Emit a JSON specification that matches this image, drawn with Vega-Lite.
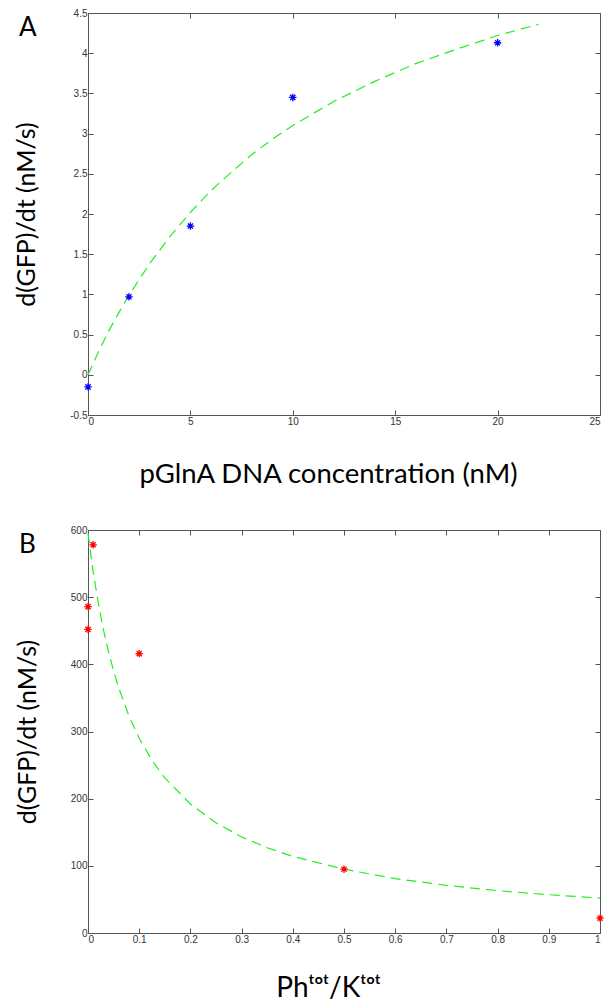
{
  "$schema": "https://vega.github.io/schema/vega-lite/v6.json",
  "padding": {"left": 14, "top": 8, "right": 3, "bottom": 5},
  "background": "white",
  "config": {
    "view": {"stroke": null},
    "axis": {
      "labelFont": "Liberation Sans", "labelFontSize": 10, "labelColor": "#333333",
      "domainColor": "#555555", "tickColor": "#555555", "domainWidth": 1, "tickWidth": 1,
      "tickSize": -5, "labelPadding": 6, "grid": false,
      "titleFont": "Lato", "titleFontSize": 25, "titleFontWeight": "normal", "titleColor": "black",
      "labelExpr": "'' + datum.value"
    }
  },
  "datasets": {
    "curveA": [
      {"x": 0, "y": 0}, {"x": 0.5, "y": 0.28}, {"x": 1, "y": 0.54}, {"x": 1.5, "y": 0.77},
      {"x": 2, "y": 0.99}, {"x": 3, "y": 1.38}, {"x": 4, "y": 1.72}, {"x": 5, "y": 2.02},
      {"x": 6, "y": 2.29}, {"x": 7, "y": 2.52}, {"x": 8, "y": 2.74}, {"x": 9, "y": 2.93},
      {"x": 10, "y": 3.10}, {"x": 12, "y": 3.40}, {"x": 14, "y": 3.65}, {"x": 16, "y": 3.87},
      {"x": 18, "y": 4.05}, {"x": 20, "y": 4.22}, {"x": 22, "y": 4.36}
    ],
    "pointsA": [
      {"x": 0, "y": -0.15}, {"x": 2, "y": 0.97}, {"x": 5, "y": 1.85}, {"x": 10, "y": 3.45}, {"x": 20, "y": 4.13}
    ],
    "curveB": [
      {"x": 0, "y": 595}, {"x": 0.01, "y": 538}, {"x": 0.02, "y": 492}, {"x": 0.03, "y": 452},
      {"x": 0.04, "y": 419}, {"x": 0.05, "y": 390}, {"x": 0.06, "y": 365}, {"x": 0.08, "y": 323},
      {"x": 0.1, "y": 290}, {"x": 0.125, "y": 257}, {"x": 0.15, "y": 231}, {"x": 0.2, "y": 192},
      {"x": 0.25, "y": 164}, {"x": 0.3, "y": 143}, {"x": 0.35, "y": 127}, {"x": 0.4, "y": 114},
      {"x": 0.5, "y": 95}, {"x": 0.6, "y": 81}, {"x": 0.7, "y": 71}, {"x": 0.8, "y": 63},
      {"x": 0.9, "y": 57}, {"x": 1.0, "y": 52}
    ],
    "pointsB": [
      {"x": 0, "y": 486}, {"x": 0, "y": 452}, {"x": 0.01, "y": 578}, {"x": 0.1, "y": 416},
      {"x": 0.5, "y": 95}, {"x": 1.0, "y": 22}
    ]
  },
  "bounds": "flush",
  "spacing": 115,
  "vconcat": [
    {
      "width": 512, "height": 402,
      "title": {"text": "A", "anchor": "start", "frame": "group", "dx": -69, "dy": 37,
        "fontSize": 26, "font": "Lato", "fontWeight": "normal", "color": "black"},
      "layer": [
        {
          "data": {"name": "curveA"},
          "mark": {"type": "line", "color": "#22ee22", "strokeDash": [10, 6], "strokeWidth": 1.2},
          "encoding": {
            "x": {"field": "x", "type": "quantitative", "scale": {"domain": [0, 25], "nice": false, "zero": false},
              "axis": {"orient": "bottom", "values": [0, 5, 10, 15, 20, 25], "title": "pGlnA DNA concentration (nM)", "titlePadding": 34, "titleFontSize": 27.5, "titleX": 240}},
            "y": {"field": "y", "type": "quantitative", "scale": {"domain": [-0.5, 4.5], "nice": false, "zero": false},
              "axis": {"orient": "left", "values": [-0.5, 0, 0.5, 1, 1.5, 2, 2.5, 3, 3.5, 4, 4.5], "title": "d(GFP)/dt (nM/s)", "titlePadding": 30}}
          }
        },
        {
          "data": {"name": "pointsA"},
          "mark": {"type": "point", "shape": "M0,-1L0,1M-1,0L1,0M-0.7,-0.7L0.7,0.7M-0.7,0.7L0.7,-0.7",
            "filled": false, "color": "#0000ff", "size": 55, "strokeWidth": 1.3, "opacity": 1},
          "encoding": {
            "x": {"field": "x", "type": "quantitative", "scale": {"domain": [0, 25], "nice": false, "zero": false},
              "axis": {"orient": "top", "values": [0, 5, 10, 15, 20, 25], "labels": false, "title": null}},
            "y": {"field": "y", "type": "quantitative", "scale": {"domain": [-0.5, 4.5], "nice": false, "zero": false},
              "axis": {"orient": "right", "values": [-0.5, 0, 0.5, 1, 1.5, 2, 2.5, 3, 3.5, 4, 4.5], "labels": false, "title": null}}
          }
        }
      ],
      "resolve": {"scale": {"x": "independent", "y": "independent"}}
    },
    {
      "width": 512, "height": 403,
      "title": {"text": "B", "anchor": "start", "frame": "group", "dx": -69, "dy": 37,
        "fontSize": 26, "font": "Lato", "fontWeight": "normal", "color": "black"},
      "layer": [
        {
          "data": {"name": "curveB"},
          "mark": {"type": "line", "color": "#22ee22", "strokeDash": [10, 6], "strokeWidth": 1.2},
          "encoding": {
            "x": {"field": "x", "type": "quantitative", "scale": {"domain": [0, 1], "nice": false, "zero": false},
              "axis": {"orient": "bottom", "values": [0, 0.1, 0.2, 0.3, 0.4, 0.5, 0.6, 0.7, 0.8, 0.9, 1], "title": "Phᵗᵒᵗ/Kᵗᵒᵗ", "titlePadding": 30, "titleFontSize": 28, "titleX": 240}},
            "y": {"field": "y", "type": "quantitative", "scale": {"domain": [0, 600], "nice": false, "zero": false},
              "axis": {"orient": "left", "values": [0, 100, 200, 300, 400, 500, 600], "title": "d(GFP)/dt (nM/s)", "titlePadding": 30}}
          }
        },
        {
          "data": {"name": "pointsB"},
          "mark": {"type": "point", "shape": "M0,-1L0,1M-1,0L1,0M-0.7,-0.7L0.7,0.7M-0.7,0.7L0.7,-0.7",
            "filled": false, "color": "#ff0000", "size": 55, "strokeWidth": 1.3, "opacity": 1},
          "encoding": {
            "x": {"field": "x", "type": "quantitative", "scale": {"domain": [0, 1], "nice": false, "zero": false},
              "axis": {"orient": "top", "values": [0, 0.1, 0.2, 0.3, 0.4, 0.5, 0.6, 0.7, 0.8, 0.9, 1], "labels": false, "title": null}},
            "y": {"field": "y", "type": "quantitative", "scale": {"domain": [0, 600], "nice": false, "zero": false},
              "axis": {"orient": "right", "values": [0, 100, 200, 300, 400, 500, 600], "labels": false, "title": null}}
          }
        }
      ],
      "resolve": {"scale": {"x": "independent", "y": "independent"}}
    }
  ]
}
